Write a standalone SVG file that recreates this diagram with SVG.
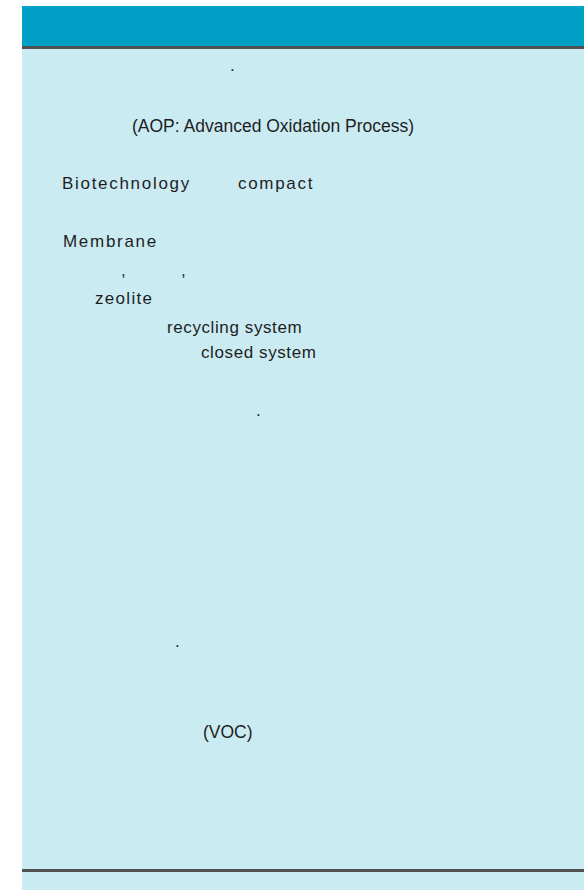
<svg xmlns="http://www.w3.org/2000/svg" width="584" height="890" viewBox="0 0 584 890">
<style>
.t{font-family:"Liberation Sans",Arial,sans-serif;font-size:17px;fill:#1e1e1e}
.s{letter-spacing:1.7px}
</style>
<rect x="0" y="0" width="584" height="890" fill="#ffffff"/>
<rect x="22" y="6" width="562" height="884" fill="#cbebf3"/>
<rect x="22" y="6" width="562" height="40" fill="#00a0c6"/>
<rect x="22" y="46" width="562" height="3" fill="#505050"/>
<rect x="22" y="869" width="562" height="3" fill="#505050"/>
<g id="texts">
<text class="t" x="230" y="71">.</text>
<text class="t" x="132" y="132" style="font-size:17.5px">(AOP: Advanced Oxidation Process)</text>
<text class="t s" x="62" y="189">Biotechnology</text>
<text class="t s" x="238" y="189">compact</text>
<text class="t s" x="63" y="247">Membrane</text>
<text class="t" x="121" y="276">,</text>
<text class="t" x="181" y="276">,</text>
<text class="t" x="95" y="304" style="letter-spacing:1.3px">zeolite</text>
<text class="t" x="167" y="333" style="letter-spacing:0.6px">recycling system</text>
<text class="t" x="201" y="358" style="letter-spacing:0.6px">closed system</text>
<text class="t" x="256" y="416">.</text>
<text class="t" x="175" y="647">.</text>
<text class="t" x="203" y="738" style="font-size:17.5px">(VOC)</text>
</g>
</svg>
